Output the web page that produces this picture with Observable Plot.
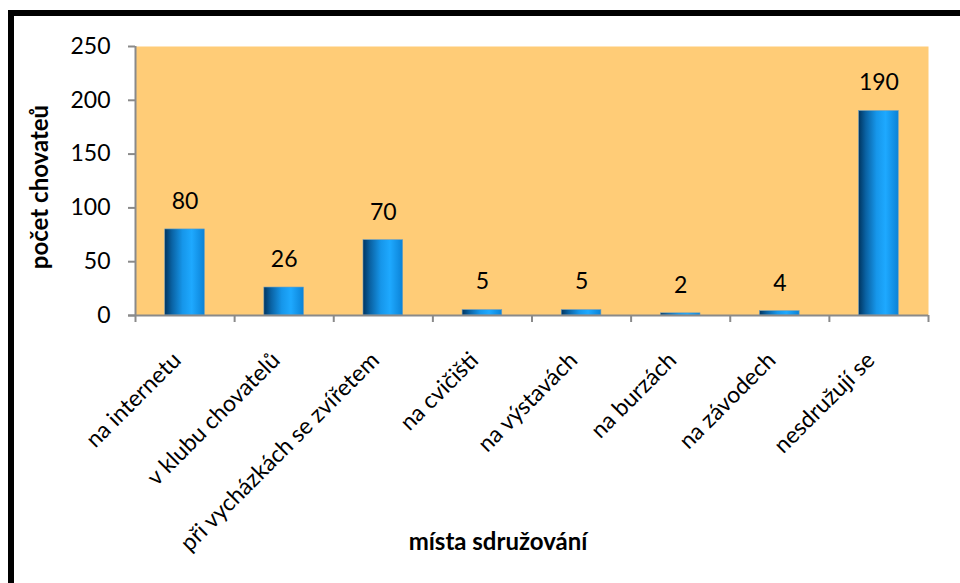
<!DOCTYPE html>
<html><head><meta charset="utf-8">
<script src="https://cdn.jsdelivr.net/npm/d3@7"></script>
<script src="https://cdn.jsdelivr.net/npm/@observablehq/plot@0.6"></script>
<style>
html,body{margin:0;padding:0;background:#fff;overflow:hidden}
#wrap{position:relative;width:960px;height:583px}
#frame{position:absolute;left:8px;top:10px;width:1000px;height:700px;border-left:6px solid #000;border-top:6px solid #000;pointer-events:none}
</style></head>
<body><div id="wrap"><div id="frame"></div></div>
<script>
const categories = ["na internetu","v klubu chovatelů","při vycházkách se zvířetem","na cvičišti","na výstavách","na burzách","na závodech","nesdružují se"];
const values = [80,26,70,5,5,2,4,190];
const yTicks = [0,50,100,150,200,250];
const yTitle = "počet chovateů";
const xTitle = "místa sdružování";

const data = categories.map((c,i)=>({c, i, v: values[i]}));
const font = "Lato, 'Open Sans', sans-serif";

const chart = Plot.plot({
  width:960, height:583,
  marginLeft:135, marginRight:32, marginTop:46, marginBottom:268,
  style:{fontFamily:font, fontSize:"23px", color:"#000", background:"transparent"},
  x:{domain:[0,categories.length]},
  y:{domain:[0,250]},
  marks:[
    Plot.frame({fill:"#FFCC77", stroke:"none"}),
    Plot.rectY(data,{x1:d=>d.i+0.3, x2:d=>d.i+0.7, y:"v", fill:"url(#barGrad)", stroke:"#6f9fc0", strokeWidth:0.6}),
    Plot.text(data,{x:d=>d.i+0.5, y:"v", text:d=>String(d.v), dy:-28, fontSize:23, fill:"#000"}),
    Plot.ruleX([0],{stroke:"#8a8a8a", strokeWidth:2}),
    Plot.ruleY([0],{x1:-0.07, x2:categories.length, stroke:"#8a8a8a", strokeWidth:2}),
    Plot.axisY({ticks:yTicks, tickSize:7, tickPadding:18, stroke:"#8a8a8a", strokeWidth:2, label:null, fontSize:23, fill:"#000"}),
    Plot.axisX({ticks:d3.range(categories.length+1), tickSize:7, tickFormat:()=>"", stroke:"#8a8a8a", strokeWidth:2, label:null}),
    Plot.axisX({ticks:categories.map((c,i)=>i+0.5), tickSize:0, tickPadding:41, tickRotate:-45,
      tickFormat:(t)=>categories[Math.floor(t)], label:null, fontSize:23, fill:"#000", dx:-8}),
    Plot.text([yTitle],{frameAnchor:"left", textAnchor:"middle", dx:-95, dy:6, rotate:-90, fontWeight:"bold", fontSize:24, fill:"#000"}),
    Plot.text([xTitle],{frameAnchor:"bottom", textAnchor:"middle", dx:-34, dy:234, fontWeight:"bold", fontSize:24, fill:"#000"})
  ]
});

const ns = "http://www.w3.org/2000/svg";
const defs = document.createElementNS(ns,"defs");
defs.innerHTML = `<linearGradient id="barGrad" x1="0" x2="1" y1="0" y2="0">
  <stop offset="0" stop-color="#003560"/>
  <stop offset="0.18" stop-color="#0a62a3"/>
  <stop offset="0.45" stop-color="#1696ea"/>
  <stop offset="0.68" stop-color="#1ea9ff"/>
  <stop offset="1" stop-color="#0b82d6"/>
</linearGradient>`;
chart.insertBefore(defs, chart.firstChild);
document.getElementById("wrap").insertBefore(chart, document.getElementById("frame"));
</script></body></html>
